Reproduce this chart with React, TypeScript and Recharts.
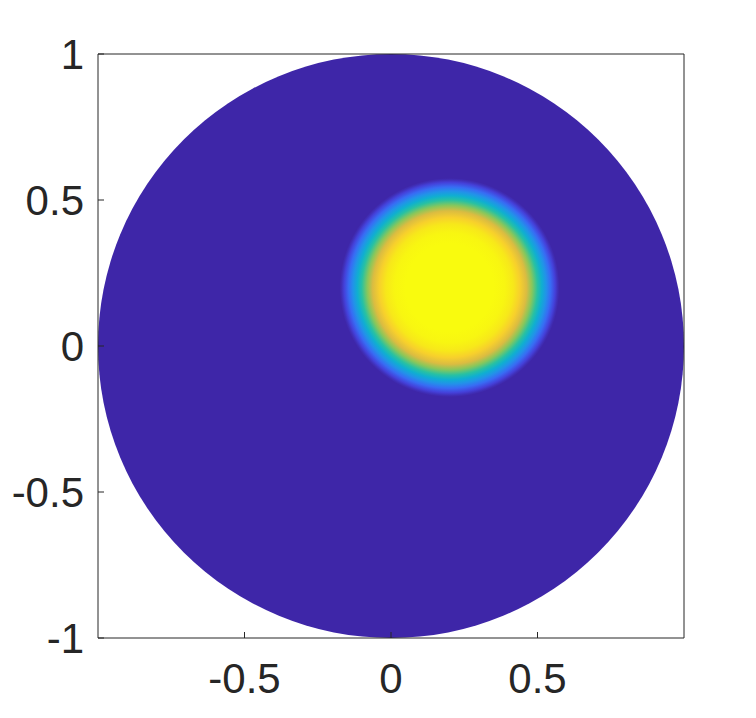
import React from 'react';
import { ScatterChart, Scatter, XAxis, YAxis, ReferenceArea } from 'recharts';

const xTicks = [-0.5, 0, 0.5];
const yTicks = [-1, -0.5, 0, 0.5, 1];
const axisRange = [-1, 1];

// unit disk (field = 0) and the hot spot
const diskCenter = [0, 0];
const diskRadius = 1;
const spotCenter = [0.2, 0.2];
const spotRadius = 0.375;

// radial profile of the spot: r / spotRadius -> field value (0..1)
const profileR = [0, 0.4, 0.5, 0.58, 0.64, 0.7, 0.75, 0.8, 0.84, 0.88, 0.92, 0.96, 0.985, 1];
const profileU = [1, 1, 0.98, 0.93, 0.86, 0.75, 0.63, 0.49, 0.37, 0.26, 0.16, 0.07, 0.02, 0];

// parula, sampled at 0, 0.1, ..., 1
const parula = [
  '#3E26A8', '#474CF0', '#2E7FF6', '#1A9FE0', '#0AB6C9', '#2BC29E',
  '#71CB66', '#BDBF41', '#F9B940', '#F6E01F', '#F9FB0E',
];

const centers = [
  { x: diskCenter[0], y: diskCenter[1] },
  { x: spotCenter[0], y: spotCenter[1] },
];

const ink = '#262626';
const font = 'Arial, "Liberation Sans", Helvetica, sans-serif';

function hex(c: string) {
  return [1, 3, 5].map((i) => parseInt(c.slice(i, i + 2), 16));
}

function colormap(u: number) {
  const t = Math.max(0, Math.min(1, u)) * (parula.length - 1);
  const i = Math.min(Math.floor(t), parula.length - 2);
  const f = t - i;
  const a = hex(parula[i]);
  const b = hex(parula[i + 1]);
  const rgb = a.map((v, k) => Math.round(v + (b[k] - v) * f));
  return `rgb(${rgb[0]},${rgb[1]},${rgb[2]})`;
}

const diskShape = (props: any) => {
  const { x, y, width, height } = props;
  return (
    <ellipse
      cx={x + width / 2}
      cy={y + height / 2}
      rx={Math.abs(width) / 2}
      ry={Math.abs(height) / 2}
      fill={colormap(0)}
    />
  );
};

const spotShape = (props: any) => {
  const { x, y, width, height } = props;
  return (
    <g>
      <defs>
        <radialGradient id="spotFill" cx="0.5" cy="0.5" r="0.5">
          {profileR.map((r, i) => (
            <stop key={i} offset={r} stopColor={colormap(profileU[i])} />
          ))}
        </radialGradient>
      </defs>
      <ellipse
        cx={x + width / 2}
        cy={y + height / 2}
        rx={Math.abs(width) / 2}
        ry={Math.abs(height) / 2}
        fill="url(#spotFill)"
      />
    </g>
  );
};

export default function App() {
  const tickStyle = { fill: ink, fontSize: 42, fontFamily: font };
  return (
    <div style={{ position: 'absolute', left: 0, top: 0, background: '#fff' }}>
      <ScatterChart width={756} height={718} margin={{ top: 44, right: 62, bottom: 20, left: 18 }}>
        <XAxis
          type="number"
          dataKey="x"
          domain={axisRange}
          ticks={xTicks}
          allowDataOverflow
          height={60}
          tickSize={-6}
          tickMargin={31}
          axisLine={{ stroke: ink }}
          tickLine={{ stroke: ink }}
          tick={tickStyle}
        />
        <XAxis
          xAxisId="top"
          orientation="top"
          type="number"
          domain={axisRange}
          ticks={xTicks}
          allowDataOverflow
          height={10}
          tickSize={-6}
          axisLine={{ stroke: ink }}
          tickLine={{ stroke: ink }}
          tick={false}
        />
        <YAxis
          type="number"
          dataKey="y"
          domain={axisRange}
          ticks={yTicks}
          allowDataOverflow
          width={80}
          tickSize={-6}
          tickMargin={20}
          axisLine={{ stroke: ink }}
          tickLine={{ stroke: ink }}
          tick={tickStyle}
        />
        <YAxis
          yAxisId="right"
          orientation="right"
          type="number"
          domain={axisRange}
          ticks={yTicks}
          allowDataOverflow
          width={10}
          tickSize={-6}
          axisLine={{ stroke: ink }}
          tickLine={{ stroke: ink }}
          tick={false}
        />
        <ReferenceArea
          x1={diskCenter[0] - diskRadius}
          x2={diskCenter[0] + diskRadius}
          y1={diskCenter[1] - diskRadius}
          y2={diskCenter[1] + diskRadius}
          ifOverflow="visible"
          shape={diskShape}
        />
        <ReferenceArea
          x1={spotCenter[0] - spotRadius}
          x2={spotCenter[0] + spotRadius}
          y1={spotCenter[1] - spotRadius}
          y2={spotCenter[1] + spotRadius}
          ifOverflow="visible"
          shape={spotShape}
        />
        <Scatter data={centers} isAnimationActive={false} shape={() => <g />} />
      </ScatterChart>
    </div>
  );
}
